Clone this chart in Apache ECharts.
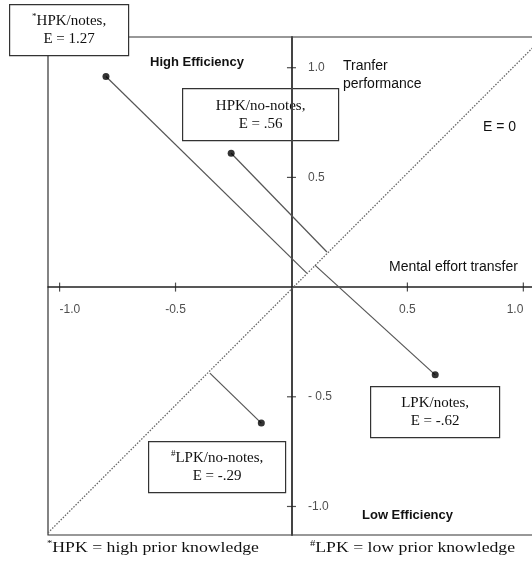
<!DOCTYPE html>
<html>
<head>
<meta charset="utf-8">
<script src="https://cdn.jsdelivr.net/npm/echarts@6/dist/echarts.min.js"></script>
<style>
html, body { margin: 0; padding: 0; background: #fff; overflow: hidden; }
/* wider than the window: the right edge of the frame falls outside, like the cropped original */
#chart { width: 550px; height: 568px; }
</style>
</head>
<body>
<div id="chart"></div>
<script>
// conditions and their efficiency scores
var conditions = ['HPK/notes', 'HPK/no-notes', 'LPK/notes', 'LPK/no-notes'];
var efficiency = ['1.27', '.56', '-.62', '-.29'];
var marks = ['*', '', '', '#'];
// mental effort (x) and transfer performance (y)
var effortZ = [-0.80, -0.26, 0.62, -0.13];
var performanceZ = [0.96, 0.61, -0.40, -0.62];
// where each distance line meets the E = 0 line
var footX = [0.066, 0.153, 0.101, -0.352];
var footY = [0.064, 0.160, 0.100, -0.392];
// E = 0 diagonal
var eZeroX = [-1.05, 1.115];
var eZeroY = [-1.12, 1.17];
// ticks
var xTicks = [-1, -0.5, 0.5, 1];
var xTickLabels = ['-1.0', '-0.5', '0.5', '1.0'];
var yTicks = [-1, -0.5, 0.5, 1];
var yTickLabels = ['-1.0', '- 0.5', '0.5', '1.0'];

var serif = '"Liberation Serif", "Times New Roman", serif';
var sans = '"Liberation Sans", Arial, sans-serif';

var chart = echarts.init(document.getElementById('chart'));

var series = [];
series.push({
    type: 'line',
    data: eZeroX.map(function (x, i) { return [x, eZeroY[i]]; }),
    symbol: 'none',
    silent: true,
    z: 1,
    lineStyle: { color: '#666', width: 1.3, type: [1.5, 1.5] }
});
conditions.forEach(function (name, i) {
    series.push({
        type: 'line',
        name: name,
        data: [[effortZ[i], performanceZ[i]], [footX[i], footY[i]]],
        symbol: 'none',
        silent: true,
        z: 2,
        lineStyle: { color: '#555', width: 1.2 }
    });
});
series.push({
    type: 'scatter',
    data: effortZ.map(function (x, i) { return [x, performanceZ[i]]; }),
    symbolSize: 7,
    z: 3,
    itemStyle: { color: '#000' }
});
// tick marks crossing the axes, with their labels
series.push({
    type: 'scatter',
    silent: true,
    z: 4,
    symbol: 'rect',
    symbolSize: [1.2, 9],
    itemStyle: { color: '#222' },
    data: xTicks.map(function (v, i) {
        return {
            value: [v, 0],
            label: { align: i === 0 ? 'left' : (i === xTicks.length - 1 ? 'right' : 'center') }
        };
    }),
    label: {
        show: true,
        position: 'bottom',
        distance: 12,
        color: '#222',
        fontSize: 12,
        fontFamily: sans,
        formatter: function (p) { return xTickLabels[p.dataIndex]; }
    }
});
series.push({
    type: 'scatter',
    silent: true,
    z: 4,
    symbol: 'rect',
    symbolSize: [9, 1.2],
    itemStyle: { color: '#222' },
    data: yTicks.map(function (v) { return [0, v]; }),
    label: {
        show: true,
        position: 'right',
        distance: 12,
        color: '#222',
        fontSize: 12,
        fontFamily: sans,
        formatter: function (p) { return yTickLabels[p.dataIndex]; }
    }
});

// label boxes: [left, top, width, height] per condition
var boxPos = [[9, 4, 119, 51], [182, 88, 156, 52], [370, 386, 129, 51], [148, 441, 137, 51]];
var rich = {
    sup: { fontSize: 9, fontFamily: serif, verticalAlign: 'top', lineHeight: 18, fill: '#111' },
    t: { fontSize: 15, fontFamily: serif, lineHeight: 18, fill: '#111' }
};

var graphics = [];
conditions.forEach(function (name, i) {
    var b = boxPos[i];
    var first = (marks[i] ? '{sup|' + marks[i] + '}' : '') + '{t|' + name + ',}';
    graphics.push({
        type: 'group',
        left: b[0],
        top: b[1],
        z: 100,
        children: [{
            type: 'rect',
            shape: { x: 0, y: 0, width: b[2], height: b[3] },
            style: { fill: '#fff', stroke: '#333', lineWidth: 1.2 }
        }, {
            type: 'text',
            x: b[2] / 2,
            y: b[3] / 2,
            style: {
                text: first + '\n{t|E = ' + efficiency[i] + '}',
                rich: rich,
                align: 'center',
                verticalAlign: 'middle'
            }
        }]
    });
});

function label(txt, x, y, font, extra) {
    var st = { text: txt, font: font, fill: '#111', verticalAlign: 'middle' };
    if (extra) { for (var k in extra) st[k] = extra[k]; }
    return { type: 'text', x: x, y: y, z: 100, style: st };
}
graphics.push(label('High Efficiency', 150, 62, 'bold 13px ' + sans));
graphics.push(label('Low Efficiency', 362, 515, 'bold 13px ' + sans));
graphics.push(label('Tranfer\nperformance', 343, 57, '14px ' + sans, { verticalAlign: 'top', lineHeight: 18 }));
graphics.push(label('Mental effort transfer', 389, 267, '14px ' + sans));
graphics.push(label('E = 0', 483, 127, '14px ' + sans));
graphics.push({
    type: 'text', x: 47, y: 548, z: 100, scaleX: 1.18,
    style: { text: '{sup|*}{t|HPK = high prior knowledge}', rich: rich, verticalAlign: 'middle' }
});
graphics.push({
    type: 'text', x: 310, y: 548, z: 100, scaleX: 1.18,
    style: { text: '{sup|#}{t|LPK = low prior knowledge}', rich: rich, verticalAlign: 'middle' }
});

var option = {
    animation: false,
    grid: {
        left: 48,
        top: 37,
        right: 0,
        bottom: 33,
        show: true,
        borderColor: '#333',
        borderWidth: 1.2
    },
    xAxis: {
        type: 'value',
        min: -1.05,
        max: 1.115,
        splitLine: { show: false },
        axisLine: { onZero: true, lineStyle: { color: '#222', width: 1.5 } },
        axisTick: { show: false },
        axisLabel: { show: false }
    },
    yAxis: {
        type: 'value',
        min: -1.13,
        max: 1.14,
        splitLine: { show: false },
        axisLine: { onZero: true, lineStyle: { color: '#444', width: 2 } },
        axisTick: { show: false },
        axisLabel: { show: false }
    },
    series: series,
    graphic: graphics
};
chart.setOption(option);
</script>
</body>
</html>
